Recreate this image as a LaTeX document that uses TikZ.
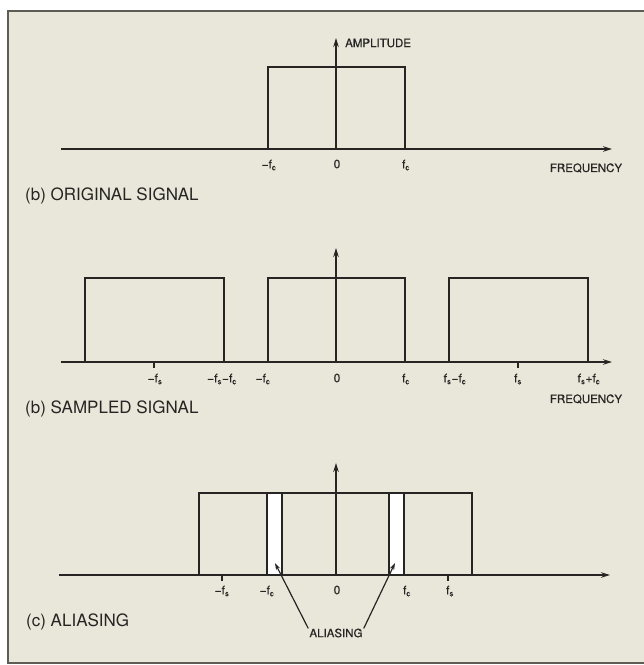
\documentclass[tikz,border=0pt]{standalone}
\usepackage{fontspec}
\setmainfont{TeX Gyre Heros}
\newfontfamily\heavyfont[FakeBold=0.6]{TeX Gyre Heros}
\usetikzlibrary{arrows.meta}
\definecolor{paper}{HTML}{E9E6DA}
\definecolor{ink}{HTML}{262523}
\definecolor{framec}{HTML}{5E5D55}
\newcommand\fsb[2]{#1\textsubscript{#2}}
\begin{document}
\begin{tikzpicture}[x=1pt,y=-1pt,
  axis/.style={draw=ink,line width=1.4pt,-{Stealth[length=9pt,width=5.5pt]}},
  boxline/.style={draw=ink,line width=1.3pt},
  tickline/.style={draw=ink,line width=1.2pt},
  pointer/.style={draw=ink,line width=1.2pt,-{Stealth[length=7pt,width=4.5pt]}},
  lbl/.style={text=ink,font=\heavyfont\fontsize{12}{13}\selectfont,inner sep=0pt},
  small/.style={text=ink,font=\heavyfont\fontsize{11.5}{13}\selectfont,inner sep=0pt},
  title/.style={text=ink,font=\fontsize{17}{20}\selectfont,inner sep=0pt,anchor=west},
  ]
\useasboundingbox (0,0) rectangle (644,665);
\fill[white] (0,0) rectangle (644,665);
\draw[framec, line width=1.8pt, fill=paper] (8,11) rectangle (660,663);

% ---------- panel 1
\coordinate (p1s) at (61,149);
\coordinate (p1e) at (612,149);
\coordinate (p1o) at (336,149);
\coordinate (p1t) at (336,38);
\draw[boxline] (268,149) -- (268,67) -- (405,67) -- (405,149);
\draw[axis] (p1s) -- (p1e);
\draw[axis] (p1o) -- (p1t);
\node[small,anchor=west] (amp) at (345,43) {AMPLITUDE};
\node[lbl] (p1a) at (269,165) {−\fsb{f}{c}};
\node[lbl] (p1b) at (337,164) {0};
\node[lbl] (p1c) at (406,165) {\fsb{f}{c}};
\node[small] (freq1) at (586,168) {FREQUENCY};
\node[title] (t1) at (25,196) {(b) ORIGINAL SIGNAL};

% ---------- panel 2
\coordinate (p2s) at (61,362);
\coordinate (p2e) at (612,362);
\coordinate (p2o) at (336,362);
\coordinate (p2t) at (336,248);
\draw[boxline] (85,362) -- (85,278) -- (224,278) -- (224,362);
\draw[boxline] (268,362) -- (268,278) -- (405,278) -- (405,362);
\draw[boxline] (449,362) -- (449,278) -- (588,278) -- (588,362);
\draw[tickline] (154,362) -- (154,368);
\draw[tickline] (518,362) -- (518,368);
\draw[axis] (p2s) -- (p2e);
\draw[axis] (p2o) -- (p2t);
\node[lbl] (p2a) at (155,379) {−\fsb{f}{s}};
\node[lbl] (p2b) at (222,379) {−\fsb{f}{s}−\fsb{f}{c}};
\node[lbl] (p2c) at (263,379) {−\fsb{f}{c}};
\node[lbl] (p2d) at (337,378) {0};
\node[lbl] (p2e) at (406,379) {\fsb{f}{c}};
\node[lbl] (p2f) at (455,379) {\fsb{f}{s}−\fsb{f}{c}};
\node[lbl] (p2g) at (518,379) {\fsb{f}{s}};
\node[lbl] (p2h) at (589,379) {\fsb{f}{s}+\fsb{f}{c}};
\node[small] (freq2) at (586,399) {FREQUENCY};
\node[title] (t2) at (25,409) {(b) SAMPLED SIGNAL};

% ---------- panel 3
\coordinate (p3s) at (59,575);
\coordinate (p3e) at (610,575);
\coordinate (p3o) at (336,575);
\coordinate (p3t) at (336,463);
\fill[white] (267,493) rectangle (282,575);
\fill[white] (389,493) rectangle (404,575);
\draw[boxline] (199,575) -- (199,493) -- (472,493) -- (472,575);
\draw[boxline] (267,493) -- (267,575);
\draw[boxline] (282,493) -- (282,575);
\draw[boxline] (389,493) -- (389,575);
\draw[boxline] (404,493) -- (404,575);
\draw[tickline] (222,575) -- (222,581);
\draw[tickline] (448,575) -- (448,581);
\draw[axis] (p3s) -- (p3e);
\draw[axis] (p3o) -- (p3t);
\node[lbl] (p3a) at (222,591) {−\fsb{f}{s}};
\node[lbl] (p3b) at (267,591) {−\fsb{f}{c}};
\node[lbl] (p3c) at (337,590) {0};
\node[lbl] (p3d) at (407,591) {\fsb{f}{c}};
\node[lbl] (p3f) at (450,591) {\fsb{f}{s}};
\node[title] (t3) at (26,622) {(c) ALIASING};
\node[small] (alias) at (336,633) {ALIASING};
\coordinate (gapL) at (275,563);
\coordinate (gapR) at (395,563);
\draw[pointer] ([xshift=-1pt]alias.north west) -- (gapL);
\draw[pointer] ([xshift=1pt]alias.north east) -- (gapR);
\end{tikzpicture}
\end{document}
